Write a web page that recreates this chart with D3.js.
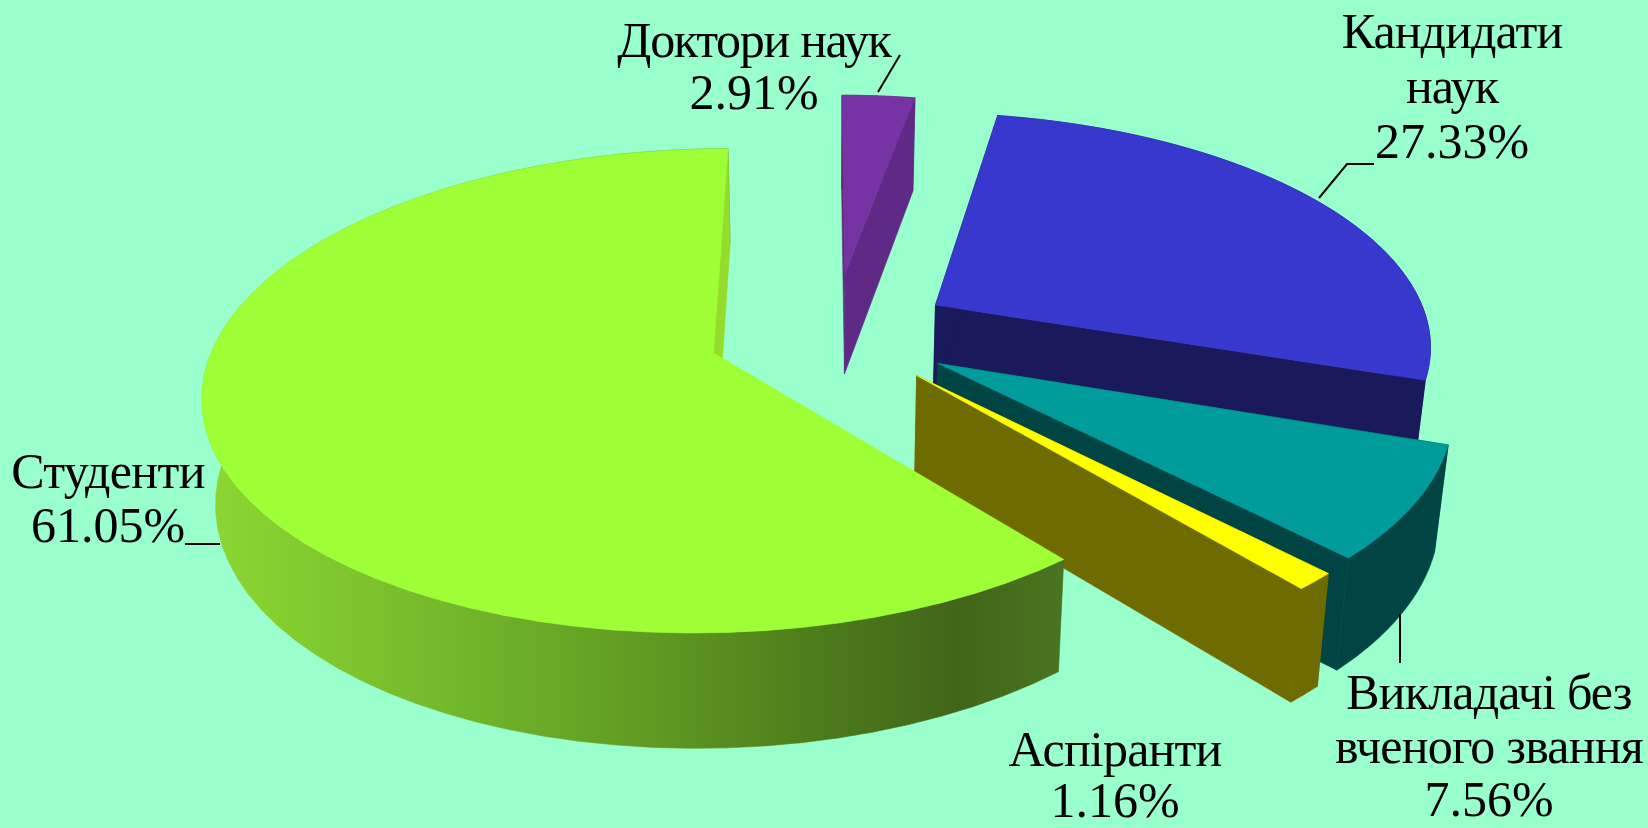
<!DOCTYPE html>
<html lang="uk">
<head>
<meta charset="UTF-8">
<title>Pie 3D</title>
<style>
  html, body { margin: 0; padding: 0; background: #99ffcc; overflow: hidden; }
  text { font-family: "Liberation Serif", serif; font-size: 50px; fill: #000; text-anchor: middle; }
</style>
<script src="https://d3js.org/d3.v7.min.js"></script>
</head>
<body>
<div id="chart"></div>
<script>
const categories = ['Кандидати наук', 'Викладачі без вченого звання', 'Аспіранти', 'Студенти', 'Доктори наук']
const values = [27.33, 7.56, 1.16, 61.05, 2.91]

const topColors = ['#3838cf', '#009b9b', '#ffff00', '#9fff36', '#7533a3']
const sideColors = ['#19195b', '#004444', '#6e6b00', 'url(#studentSide)', '#5f2a85']
const faceColors = ['#19195b', '#004444', '#6e6b00', '#96dc2d', '#5f2a85']

const width = 1648, height = 828

// how far each slice is pulled out, as a share of the radius
const explode = [0.243, 0.243, 0.243, 0.255, 0.27]
const radius = [1, 1, 1, 1, 0.96]
// painter's order: back to front
const drawOrder = [4, 0, 1, 2, 3]

// perspective of the pie plane
const cam = { x0: 723, y0: 358, a: 504, t: 129, b: 181.6, p: 0.157, h: 104, hv: 6.5, vx: 824, squeeze: 0.022 }
const hub = [0.22, 0.108]

function project(u, v, z) {
    const w = 1 + cam.p * v
    const x = (cam.x0 + cam.a * u + cam.t * v) / w
    const y = (cam.y0 - cam.b * v + z * (cam.h + cam.hv * v)) / w
    return [cam.vx + (x - cam.vx) * (1 - cam.squeeze * z), y]
}

const svg = d3.select('#chart').append('svg')
    .attr('width', width)
    .attr('height', height)

svg.append('rect').attr('width', width).attr('height', height).attr('fill', '#99ffcc')

const grad = svg.append('defs').append('linearGradient')
    .attr('id', 'studentSide')
    .attr('gradientUnits', 'userSpaceOnUse')
    .attr('x1', 205).attr('x2', 1060).attr('y1', 0).attr('y2', 0)
const gradStops = [[0, '#8cd832'], [0.257, '#76bb2c'], [0.52, '#5f9a22'], [0.696, '#4f7f1c'], [0.88, '#416518'], [1, '#4a7420']]
grad.selectAll('stop').data(gradStops).enter().append('stop')
    .attr('offset', d => d[0])
    .attr('stop-color', d => d[1])

const start = values[4] / d3.sum(values) * 2 * Math.PI
const pie = d3.pie().sort(null).value(d => d).startAngle(start).endAngle(start + 2 * Math.PI)
const arcs = pie(values)
const line = d3.line()

const plot = svg.append('g')

drawOrder.forEach(i => {
    const d = arcs[i]
    const mid = (d.startAngle + d.endAngle) / 2
    const cu = hub[0] + explode[i] * Math.sin(mid)
    const cv = hub[1] + explode[i] * Math.cos(mid)

    const rim = z => d3.range(0, 61).map(k => {
        const a = d.startAngle + (d.endAngle - d.startAngle) * k / 60
        return project(cu + radius[i] * Math.sin(a), cv + radius[i] * Math.cos(a), z)
    })
    const topRim = rim(0), lowRim = rim(1)
    const apexTop = project(cu, cv, 0), apexLow = project(cu, cv, 1)

    const shape = (pts, fill) => plot.append('path')
        .attr('d', line(pts) + 'Z')
        .attr('fill', fill)
        .attr('stroke', fill)
        .attr('stroke-width', 0.6)

    shape(topRim.concat(lowRim.slice().reverse()), sideColors[i])
    shape([apexTop, topRim[60], lowRim[60], apexLow], faceColors[i])
    // the big slice turns its first cut away from the viewer
    if (i !== 3) shape([apexTop, topRim[0], lowRim[0], apexLow], faceColors[i])
    shape([apexTop].concat(topRim), topColors[i])
})

// labels
const fmt = v => v.toFixed(2) + '%'
const labelLines = [
    ['Кандидати', 'наук'],
    ['Викладачі без', 'вченого звання'],
    ['Аспіранти'],
    ['Студенти'],
    ['Доктори наук']
]
const labelPos = [
    { x: 1452, y: 48, dy: 55 },
    { x: 1489, y: 709, dy: 53.5 },
    { x: 1115, y: 766, dy: 51 },
    { x: 108, y: 488, dy: 54 },
    { x: 754, y: 57, dy: 52 }
]
const nameSpacing = [-0.9, -0.8, -0.8, -0.65, -1.3]
const leaders = [
    [[1374, 164], [1347, 164], [1319, 198]],
    [[1400, 614], [1400, 663]],
    [],
    [[185, 544], [220, 544]],
    [[900, 55], [878, 92]]
]

const labels = svg.append('g')
categories.forEach((name, i) => {
    const t = labels.append('text').attr('aria-label', name)
    labelLines[i].forEach((s, k) => {
        t.append('tspan')
            .attr('x', labelPos[i].x)
            .attr('y', labelPos[i].y + k * labelPos[i].dy)
            .attr('letter-spacing', nameSpacing[i])
            .text(s)
    })
    t.append('tspan')
        .attr('x', labelPos[i].x)
        .attr('y', labelPos[i].y + labelLines[i].length * labelPos[i].dy)
        .text(fmt(values[i]))
    if (leaders[i].length) {
        labels.append('path')
            .attr('d', line(leaders[i]))
            .attr('fill', 'none')
            .attr('stroke', '#000')
            .attr('stroke-width', 2)
    }
})
</script>
</body>
</html>
